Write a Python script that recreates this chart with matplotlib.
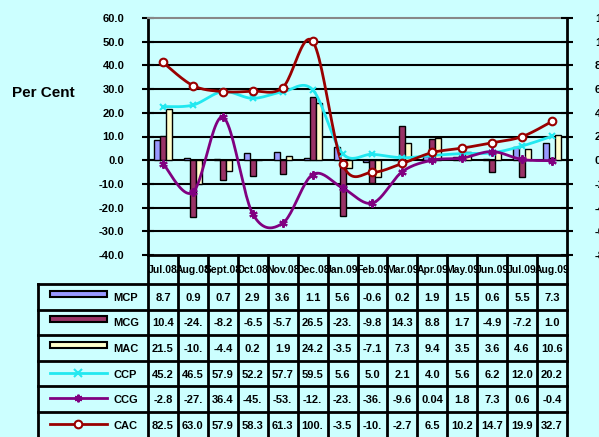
import numpy as np
import matplotlib
matplotlib.use('Agg')
import matplotlib.pyplot as plt

plt.rcParams['font.family'] = ['Liberation Sans', 'DejaVu Sans']

months = ["Jul.08", "Aug.08", "Sept.08", "Oct.08", "Nov.08", "Dec.08", "Jan.09",
          "Feb.09", "Mar.09", "Apr.09", "May.09", "Jun.09", "Jul.09", "Aug.09"]
mcp = [8.7, 0.9, 0.7, 2.9, 3.6, 1.1, 5.6, -0.6, 0.2, 1.9, 1.5, 0.6, 5.5, 7.3]
mcg = [10.4, -24.1, -8.2, -6.5, -5.7, 26.5, -23.5, -9.8, 14.3, 8.8, 1.7, -4.9, -7.2, 1.0]
mac = [21.5, -10.2, -4.4, 0.2, 1.9, 24.2, -3.5, -7.1, 7.3, 9.4, 3.5, 3.6, 4.6, 10.6]
ccp = [45.2, 46.5, 57.9, 52.2, 57.7, 59.5, 5.6, 5.0, 2.1, 4.0, 5.6, 6.2, 12.0, 20.2]
ccg = [-2.8, -27.1, 36.4, -45.3, -53.2, -12.1, -23.4, -36.2, -9.6, 0.04, 1.8, 7.3, 0.6, -0.4]
cac = [82.5, 63.0, 57.9, 58.3, 61.3, 100.4, -3.5, -10.2, -2.7, 6.5, 10.2, 14.7, 19.9, 32.7]

BG = '#CCFFFF'
C_MCP, C_MCG, C_MAC = '#9999FF', '#993366', '#FFFFCC'
C_CCP, C_CCG, C_CAC = '#22E8F0', '#800080', '#990000'

W, H = 599, 437
fig = plt.figure(figsize=(W / 100, H / 100), dpi=100, facecolor=BG)

L, R, T, B = 148, 567, 18, 255
ax = fig.add_axes([L / W, 1 - B / H, (R - L) / W, (B - T) / H])
ax.set_facecolor('none')
n = len(months)
x = np.arange(n)
bw = 0.2
ax.bar(x - bw, mcp, bw, color=C_MCP, edgecolor='black', lw=1, zorder=3)
ax.bar(x, mcg, bw, color=C_MCG, edgecolor='black', lw=1, zorder=3)
ax.bar(x + bw, mac, bw, color=C_MAC, edgecolor='black', lw=1, zorder=3)
ax.set_xlim(-0.5, n - 0.5)
ax.set_ylim(-40, 60)
ax.set_xticks([])
yt = list(range(-40, 70, 10))
ax.set_yticks(yt)
ax.set_yticklabels([f"{v:.1f}" for v in yt], fontsize=8, fontweight='bold')
ax.tick_params(axis='y', direction='inout', length=8, width=1.5, pad=13)
for v in range(-30, 60, 10):
    ax.axhline(v, color='black', lw=1.5, zorder=1)
for s in ['left', 'right', 'bottom']:
    ax.spines[s].set_linewidth(2)
ax.spines['top'].set_color('#888888')
ax.spines['top'].set_linewidth(1.5)

ax2 = ax.twinx()
ax2.set_ylim(-80, 120)
yt2 = list(range(-80, 140, 20))
ax2.set_yticks(yt2)
ax2.set_yticklabels([f"{v:.1f}" for v in yt2], fontsize=8, fontweight='bold')
ax2.tick_params(axis='y', direction='inout', length=8, width=1.5, pad=16)
for s in ax2.spines.values():
    s.set_visible(False)


def smooth(vals, k=24):
    p = np.column_stack([np.arange(len(vals)), np.asarray(vals, float)])
    out = []
    m = len(p)
    for i in range(m - 1):
        pm = p[i - 1] if i > 0 else p[i]
        pn = p[i + 2] if i + 2 < m else p[i + 1]
        b0, b3 = p[i], p[i + 1]
        b1 = b0 + (b3 - pm) / 6
        b2 = b3 - (pn - b0) / 6
        t = np.linspace(0, 1, k)[:, None]
        seg = ((1 - t) ** 3) * b0 + 3 * ((1 - t) ** 2) * t * b1 + 3 * (1 - t) * t ** 2 * b2 + t ** 3 * b3
        out.append(seg if i == 0 else seg[1:])
    s = np.vstack(out)
    return s[:, 0], s[:, 1]


for vals, col, mk, kw in [
    (ccp, C_CCP, 'x', dict(ms=5, mew=1.5, mfc=C_CCP)),
    (ccg, C_CCG, (6, 2, 0), dict(ms=6, mew=1.5, mfc=C_CCG)),
    (cac, C_CAC, 'o', dict(ms=5.5, mew=1.5, mfc='white')),
]:
    sx, sy = smooth(vals)
    ax2.plot(sx, sy, color=col, lw=2, zorder=4)
    ax2.plot(x, vals, ls='none', marker=mk, color=col, mec=col, zorder=5, **kw)

# Table
TL = 38
cw = (R - L) / n
def px2c(px):
    return (px - L) / cw - 0.5

tax = fig.add_axes([TL / W, 0, (R - TL) / W, (H - B) / H])
tax.set_xlim(px2c(TL), n - 0.5)
tax.set_ylim(H, B)
tax.axis('off')
tax.set_facecolor('none')

row_top = 284
rh = 25.6
rows = [("MCP", mcp, 'bar', C_MCP, None), ("MCG", mcg, 'bar', C_MCG, None),
        ("MAC", mac, 'bar', C_MAC, None), ("CCP", ccp, 'line', C_CCP, 'x'),
        ("CCG", ccg, 'line', C_CCG, (6, 2, 0)), ("CAC", cac, 'line', C_CAC, 'o')]

lk = dict(color='black', lw=2, clip_on=False, solid_capstyle='projecting')
for k in range(n + 1):
    tax.plot([k - 0.5, k - 0.5], [B, H + 2], **lk)
for r in range(len(rows) + 1):
    yy = row_top + rh * r
    tax.plot([px2c(TL), n - 0.5], [yy, yy], **lk)
tax.plot([px2c(TL), px2c(TL)], [row_top, H + 2], **lk)

for i, m in enumerate(months):
    tax.text(i, (B + row_top) / 2 + 1, m, ha='center', va='center', fontsize=7.5,
             fontweight='bold')

def fmt(v):
    s = f"{v:.2f}" if abs(v) < 0.1 and v != 0 else f"{v:.1f}"
    return s[:4]

for r, (name, vals, kind, col, mk) in enumerate(rows):
    yc = row_top + rh * (r + 0.5)
    for i, v in enumerate(vals):
        tax.text(i, yc + 1, fmt(v), ha='center', va='center', fontsize=8,
                 fontweight='bold')
    if kind == 'bar':
        tax.add_patch(plt.Rectangle((px2c(50), yc - 6), px2c(107) - px2c(50), 6,
                                    facecolor=col, edgecolor='black', lw=1.5))
    else:
        tax.plot([px2c(50), px2c(107)], [yc - 1, yc - 1], color=col, lw=2)
        mfc = 'white' if mk == 'o' else col
        tax.plot([px2c(78)], [yc - 1], marker=mk, color=col, mec=col, mfc=mfc,
                 ms=5.5, mew=1.5)
    tax.text(px2c(113), yc + 1, name, ha='left', va='center', fontsize=8,
             fontweight='bold')

fig.text(12 / W, 1 - 93 / H, "Per Cent", ha='left', va='center', fontsize=11,
         fontweight='bold')

fig.savefig('out.png', dpi=100, facecolor=BG)
